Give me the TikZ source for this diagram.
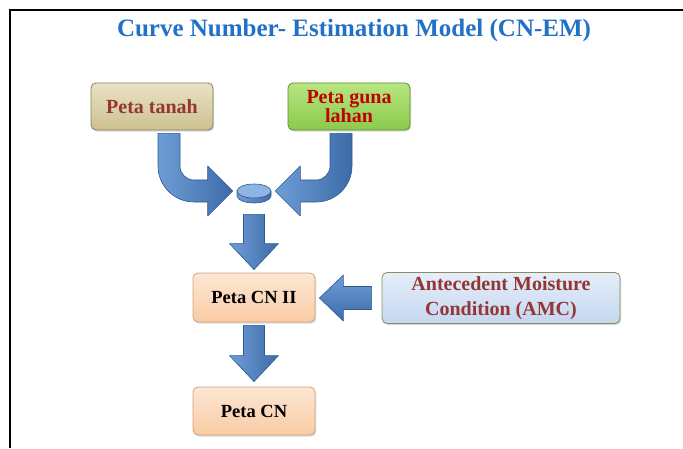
\documentclass[tikz,border=0pt]{standalone}
\usepackage{fontspec}
\setmainfont{Liberation Serif}
\usetikzlibrary{shapes.geometric,shadows,calc}

\definecolor{titleblue}{HTML}{2171C7}
\definecolor{maroon}{HTML}{943634}
\definecolor{brightred}{HTML}{C00000}
\definecolor{arrowlight}{HTML}{6E9DD6}
\definecolor{arrowdark}{HTML}{3C6BA8}
\definecolor{arrowedge}{HTML}{2D5A92}
\definecolor{tanT}{HTML}{E9E2C4}
\definecolor{tanB}{HTML}{CDC190}
\definecolor{tanE}{HTML}{8B8056}
\definecolor{greenT}{HTML}{B8E682}
\definecolor{greenB}{HTML}{8BCA4A}
\definecolor{greenE}{HTML}{5E8A2E}
\definecolor{peachT}{HTML}{FDE7D4}
\definecolor{peachB}{HTML}{F9CBA4}
\definecolor{peachE}{HTML}{D3A07A}
\definecolor{blueT}{HTML}{E6EEF9}
\definecolor{blueB}{HTML}{C3D7F0}
\definecolor{blueE}{HTML}{8B8A5C}
\definecolor{disctop}{HTML}{8DB4E3}

% vertical block arrow: shaft starts at #1, tip sits at the height of #2
\newcommand\downblock[2]{%
  \path[vblock] let \p1=(#1), \p2=(#2) in
    (\x1-10.5pt,\y1) -- (\x1+10.5pt,\y1) -- (\x1+10.5pt,\y2+26pt)
    -- (\x1+24.5pt,\y2+26pt) -- (\x1,\y2) -- (\x1-24.5pt,\y2+26pt)
    -- (\x1-10.5pt,\y2+26pt) -- cycle;}
% leftward block arrow: tail at #1, tip at the x of #2
\newcommand\leftblock[2]{%
  \path[hblock] let \p1=(#1), \p2=(#2) in
    (\x1,\y1+11.5pt) -- (\x2+24pt,\y1+11.5pt) -- (\x2+24pt,\y1+23pt)
    -- (\x2,\y1) -- (\x2+24pt,\y1-23pt) -- (\x2+24pt,\y1-11.5pt)
    -- (\x1,\y1-11.5pt) -- cycle;}

\begin{document}
\begin{tikzpicture}[x=1pt,y=1pt,
  box/.style={draw, rounded corners=5pt, line width=0.8pt, align=center,
    font=\bfseries\fontsize{20}{20}\selectfont, inner sep=2pt,
    drop shadow={shadow xshift=1.2pt,shadow yshift=-1.6pt,opacity=0.3}},
  vblock/.style={left color=arrowlight, right color=arrowdark, draw=arrowedge,
    line width=0.6pt, line join=round},
  hblock/.style={top color=arrowlight, bottom color=arrowdark, draw=arrowedge,
    line width=0.6pt, line join=round}
]
\useasboundingbox (0,0) rectangle (683,448);

% frame
\draw[line width=2pt] (10,0) -- (10,437.5) -- (683,437.5);

% title
\node[font=\bfseries\fontsize{25}{25}\selectfont, text=titleblue] (title)
  at (354,418) {Curve Number- Estimation Model (CN-EM)};

% input maps
\node[box, top color=tanT, bottom color=tanB, draw=tanE, text=maroon,
  minimum width=122pt, minimum height=47pt] (tanah) at (152,341.5) {Peta tanah};
\node[box, top color=greenT, bottom color=greenB, draw=greenE, text=brightred,
  minimum width=122pt, minimum height=47pt] (guna) at (349,341.5)
  {Peta guna\\[-1pt]lahan};

% overlay disc
\coordinate (jc) at (254,257);
\path[left color=arrowlight, right color=arrowdark, draw=arrowedge, line width=0.6pt]
  ([xshift=-17pt]jc) -- ([xshift=-17pt,yshift=-5pt]jc)
  arc[start angle=180,end angle=360,x radius=17pt,y radius=7pt]
  -- ([xshift=17pt]jc) -- cycle;
\node[ellipse, draw=arrowedge, line width=0.6pt, fill=disctop,
  minimum width=34pt, minimum height=14pt, inner sep=0pt] (join) at (jc) {};

% CN maps and AMC
\node[box, top color=peachT, bottom color=peachB, draw=peachE, text=black,
  font=\bfseries\fontsize{18.5}{18.5}\selectfont,
  minimum width=122pt, minimum height=49pt] (cn2) at (254,150.5) {Peta CN II};
\node[box, top color=blueT, bottom color=blueB, draw=blueE, text=maroon,
  font=\bfseries\fontsize{20}{25}\selectfont,
  minimum width=238pt, minimum height=51pt] (amc) at (501,150) {Antecedent Moisture\\Condition (AMC)};
\node[box, top color=peachT, bottom color=peachB, draw=peachE, text=black,
  font=\bfseries\fontsize{18.5}{18.5}\selectfont,
  minimum width=122pt, minimum height=48pt] (cn) at (254,37) {Peta CN};

% bent arrows into the disc
\path[vblock] let \p1=([xshift=17pt,yshift=-3pt]tanah.south),
                  \p2=([xshift=-4pt]join.west) in
  (\x1-11pt,\y1) -- (\x1+11pt,\y1) -- (\x1+11pt,\y2+25pt)
  arc[start angle=180,end angle=270,radius=14pt]
  -- (\x2-25pt,\y2+11pt) -- (\x2-25pt,\y2+25pt) -- (\x2,\y2)
  -- (\x2-25pt,\y2-25pt) -- (\x2-25pt,\y2-11pt)
  -- (\x1+25pt,\y2-11pt) arc[start angle=270,end angle=180,radius=36pt] -- cycle;
\path[vblock] let \p1=([xshift=-8pt,yshift=-3pt]guna.south),
                  \p2=([xshift=4pt]join.east) in
  (\x1+11pt,\y1) -- (\x1-11pt,\y1) -- (\x1-11pt,\y2+25pt)
  arc[start angle=0,end angle=-90,radius=14pt]
  -- (\x2+25pt,\y2+11pt) -- (\x2+25pt,\y2+25pt) -- (\x2,\y2)
  -- (\x2+25pt,\y2-25pt) -- (\x2+25pt,\y2-11pt)
  -- (\x1-25pt,\y2-11pt) arc[start angle=-90,end angle=0,radius=36pt] -- cycle;

% straight arrows
\downblock{[yshift=-16pt]join.south}{[yshift=3pt]cn2.north}
\downblock{[yshift=-3pt]cn2.south}{[yshift=5pt]cn.north}
\leftblock{[xshift=-10pt]amc.west}{[xshift=4pt]cn2.east}
\end{tikzpicture}
\end{document}
